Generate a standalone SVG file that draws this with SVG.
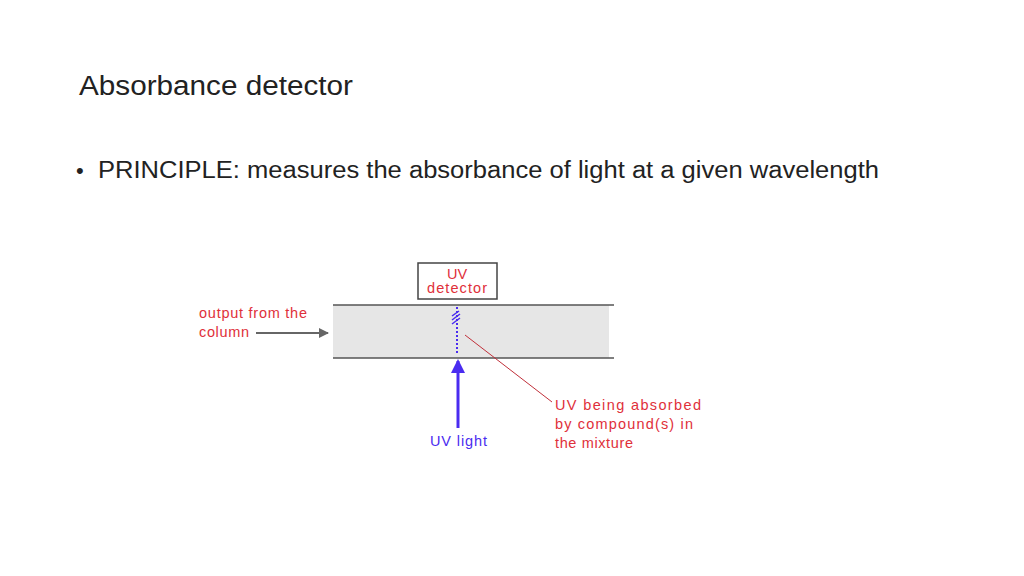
<svg xmlns="http://www.w3.org/2000/svg" width="1024" height="576" viewBox="0 0 1024 576">
<style>
.t{font-family:"Liberation Sans",Arial,sans-serif;fill:#222}
.r{font-family:"Liberation Sans",Arial,sans-serif;fill:#e0303a;font-size:14.5px}
</style>
<defs>
<marker id="ag" markerWidth="10" markerHeight="10" refX="9" refY="5" orient="auto" markerUnits="userSpaceOnUse" viewBox="0 0 10 10"><path d="M0,0L10,5L0,10z" fill="#666"/></marker>
<marker id="ab" markerWidth="14" markerHeight="14" refX="12" refY="7" orient="auto" markerUnits="userSpaceOnUse" viewBox="0 0 14 14"><path d="M0,0L14,7L0,14z" fill="#4a2cf0"/></marker>
</defs>
<rect width="1024" height="576" fill="#fff"/>
<text class="t" x="79" y="95" font-size="27" textLength="274" lengthAdjust="spacingAndGlyphs">Absorbance detector</text>
<text class="t" x="76" y="178" font-size="22">•</text>
<text class="t" x="98" y="178" font-size="23" textLength="781" lengthAdjust="spacingAndGlyphs">PRINCIPLE: measures the absorbance of light at a given wavelength</text>
<g id="band"><rect x="333" y="305" width="276" height="53" fill="#e6e6e6"/>
<line x1="333" y1="305" x2="614" y2="305" stroke="#555" stroke-width="1.5"/>
<line x1="333" y1="358" x2="614" y2="358" stroke="#555" stroke-width="1.5"/></g>
<g id="detector"><rect x="418" y="263" width="79" height="36" fill="#fff" stroke="#444" stroke-width="1.5"/>
<text class="r" x="457" y="279" text-anchor="middle">UV</text>
<text class="r" x="457" y="293" text-anchor="middle" textLength="60">detector</text></g>
<g id="labels">
<text class="r" x="199" y="318" textLength="108">output from the</text>
<text class="r" x="199" y="337" textLength="50">column</text>
<text class="r" x="555" y="410" textLength="146">UV being absorbed</text>
<text class="r" x="555" y="429" textLength="138">by compound(s) in</text>
<text class="r" x="555" y="448" textLength="78">the mixture</text>
<text x="430" y="446" font-family="Liberation Sans,Arial,sans-serif" font-size="14.5" fill="#4a2cf0" textLength="57">UV light</text>
</g>
<g id="connectors">
<line x1="256" y1="333" x2="328" y2="333" stroke="#666" stroke-width="2" marker-end="url(#ag)"/>
<line x1="458" y1="428" x2="458" y2="361" stroke="#4a2cf0" stroke-width="3" marker-end="url(#ab)"/>
<line x1="457" y1="307" x2="457" y2="353" stroke="#4a2cf0" stroke-width="2" stroke-dasharray="2,2"/>
<path d="M452,316l7,-5M452,320l8,-6M452,324l8,-6" stroke="#4a2cf0" stroke-width="1.5"/>
<line x1="465" y1="335" x2="552" y2="402" stroke="#c0303a" stroke-width="1"/>
</g>
</svg>
